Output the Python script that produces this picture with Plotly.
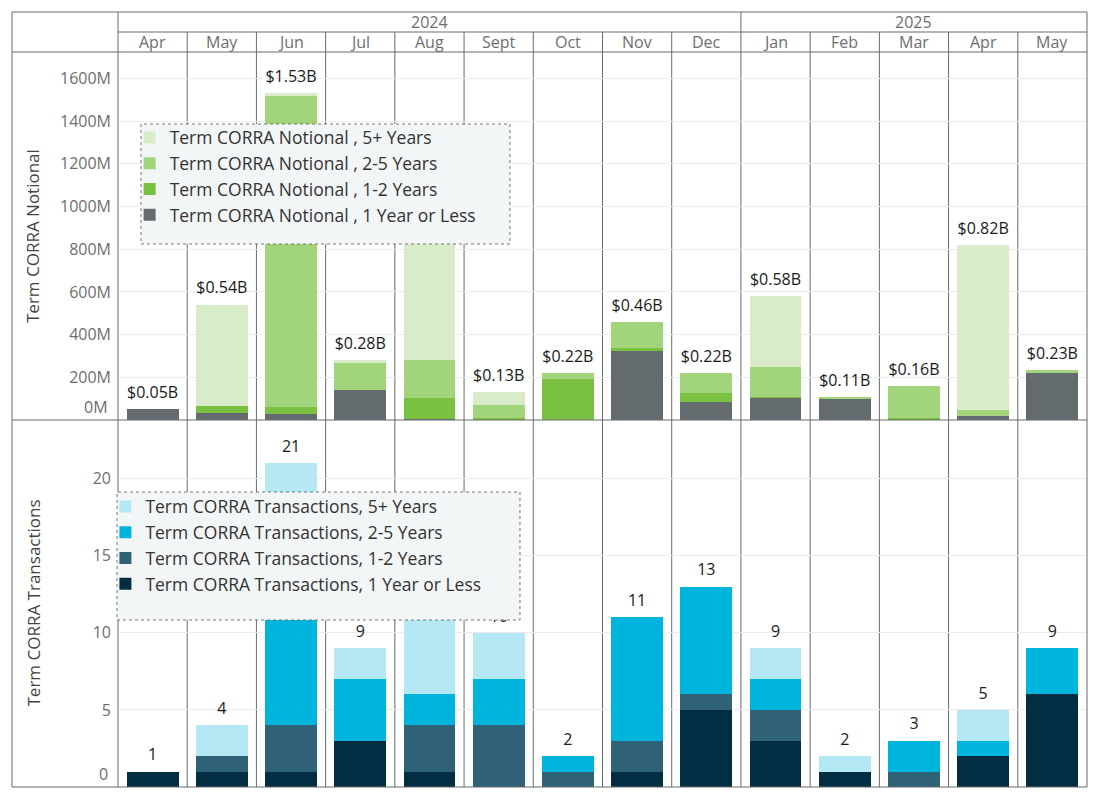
import plotly.graph_objects as go
from plotly.subplots import make_subplots

# months shown along the top header
months = ["Apr", "May", "Jun", "Jul", "Aug", "Sept", "Oct", "Nov", "Dec",
          "Jan", "Feb", "Mar", "Apr", "May"]
years = ["2024"] * 9 + ["2025"] * 5
cats = [m + " " + y for m, y in zip(months, years)]

# Term CORRA notional, $M
notional_1y = [50, 34, 30, 141, 5, 0, 0, 324, 85, 105, 100, 0, 19, 220]
notional_1_2y = [0, 33, 33, 0, 98, 10, 190, 14, 42, 5, 0, 10, 0, 0]
notional_2_5y = [0, 0, 1457, 128, 179, 60, 30, 122, 94, 139, 8, 150, 28, 12]
notional_5y = [0, 473, 10, 13, 598, 60, 0, 0, 0, 333, 0, 0, 773, 0]

# Term CORRA transactions, count
tx_1y = [1, 1, 1, 3, 1, 0, 0, 1, 5, 3, 1, 0, 2, 6]
tx_1_2y = [0, 1, 3, 0, 3, 4, 1, 2, 1, 2, 0, 1, 0, 0]
tx_2_5y = [0, 0, 12, 4, 2, 3, 1, 8, 7, 2, 0, 2, 1, 3]
tx_5y = [0, 2, 5, 2, 6, 3, 0, 0, 0, 2, 1, 0, 2, 0]

notional_ticks = [200, 400, 600, 800, 1000, 1200, 1400, 1600]
tx_ticks = [5, 10, 15, 20]

FONT = "Open Sans"
LINE = "#676b6e"
TICK = "#6e6e6e"

notional_total = [a + b + c + d for a, b, c, d in zip(notional_1y, notional_1_2y, notional_2_5y, notional_5y)]
tx_total = [a + b + c + d for a, b, c, d in zip(tx_1y, tx_1_2y, tx_2_5y, tx_5y)]

fig = make_subplots(rows=2, cols=1, shared_xaxes=True, vertical_spacing=0)

top_series = [
    ("Term CORRA Notional , 1 Year or Less", notional_1y, "#646b6e"),
    ("Term CORRA Notional , 1-2 Years", notional_1_2y, "#7ac142"),
    ("Term CORRA Notional , 2-5 Years", notional_2_5y, "#a2d47b"),
    ("Term CORRA Notional , 5+ Years", notional_5y, "#d9ecc9"),
]
for name, vals, col in top_series:
    fig.add_trace(go.Bar(x=cats, y=vals, name=name, marker=dict(color=col, line_width=0),
                         legend="legend"), row=1, col=1)

bottom_series = [
    ("Term CORRA Transactions, 1 Year or Less", tx_1y, "#032d42"),
    ("Term CORRA Transactions, 1-2 Years", tx_1_2y, "#2f6276"),
    ("Term CORRA Transactions, 2-5 Years", tx_2_5y, "#00b5dd"),
    ("Term CORRA Transactions, 5+ Years", tx_5y, "#b3e8f4"),
]
for name, vals, col in bottom_series:
    fig.add_trace(go.Bar(x=cats, y=vals, name=name, marker=dict(color=col, line_width=0),
                         legend="legend2"), row=2, col=1)

# total labels (as traces so the legend boxes can cover them)
fig.add_trace(go.Scatter(
    x=cats, y=notional_total, mode="markers+text",
    text=["$%.2fB" % (v / 1000) for v in notional_total],
    textposition="top center", textfont=dict(size=16, color="#1a1a1a", family=FONT),
    marker=dict(size=10, opacity=0), showlegend=False, hoverinfo="skip", cliponaxis=False),
    row=1, col=1)
fig.add_trace(go.Scatter(
    x=cats, y=tx_total, mode="markers+text",
    text=[str(v) for v in tx_total],
    textposition="top center", textfont=dict(size=16, color="#1a1a1a", family=FONT),
    marker=dict(size=10, opacity=0), showlegend=False, hoverinfo="skip", cliponaxis=False),
    row=2, col=1)

H = 735.0
W = 969.0
split = 367 / H

fig.update_layout(
    width=1100, height=800,
    margin=dict(l=110, r=21, t=44, b=21),
    barmode="stack", bargap=0.25,
    plot_bgcolor="white", paper_bgcolor="white",
    font=dict(family=FONT, size=16, color="#333333"),
    legend=dict(x=0.012, y=0.908, xanchor="left", yanchor="top", traceorder="reversed",
                bgcolor="rgba(0,0,0,0)", font=dict(size=17.5, color="#333333"), tracegroupgap=0),
    legend2=dict(x=-0.013, y=0.406, xanchor="left", yanchor="top", traceorder="reversed",
                 bgcolor="rgba(0,0,0,0)", font=dict(size=17.5, color="#333333"), tracegroupgap=0),
)
fig.update_xaxes(range=[-0.5, 13.5], showticklabels=False, showgrid=False, zeroline=False,
                 showline=False, fixedrange=True)
fig.update_yaxes(domain=[split, 1], range=[0, 1724], tickvals=notional_ticks,
                 ticktext=["%dM" % v for v in notional_ticks], row=1, col=1)
fig.update_yaxes(domain=[0, split], range=[0, 23.8], tickvals=tx_ticks, row=2, col=1)
fig.update_yaxes(showgrid=True, gridcolor="#ebebeb", gridwidth=1, zeroline=False, showline=False,
                 tickfont=dict(size=16, color=TICK), ticks="", ticklabelstandoff=6)

# zero labels sit a bit higher than the gridline, as in the source
fig.add_annotation(x=0, xref="paper", y=0, yref="y", text="0M", showarrow=False,
                   xanchor="right", xshift=-8, yshift=13, font=dict(size=16, color=TICK))
fig.add_annotation(x=0, xref="paper", y=0, yref="y2", text="0", showarrow=False,
                   xanchor="right", xshift=-8, yshift=13, font=dict(size=16, color=TICK))

# axis titles
fig.add_annotation(x=-85 / W, xref="paper", y=(split + 1) / 2, yref="paper", text="Term CORRA Notional",
                   textangle=-90, showarrow=False, xanchor="center", yanchor="middle",
                   font=dict(size=17, color="#444444"))
fig.add_annotation(x=-85 / W, xref="paper", y=split / 2, yref="paper", text="Term CORRA Transactions",
                   textangle=-90, showarrow=False, xanchor="center", yanchor="middle",
                   font=dict(size=17, color="#444444"))

# header: months and years
for i, m in enumerate(months):
    fig.add_annotation(x=i, xref="x", y=1 + 10 / H, yref="paper", text=m, showarrow=False,
                       yanchor="middle", font=dict(size=16, color=TICK))
fig.add_annotation(x=4, xref="x", y=1 + 30 / H, yref="paper", text="2024", showarrow=False,
                   yanchor="middle", font=dict(size=16, color=TICK))
fig.add_annotation(x=11, xref="x", y=1 + 30 / H, yref="paper", text="2025", showarrow=False,
                   yanchor="middle", font=dict(size=16, color=TICK))

# table-like frame
left = -106 / W
top = 1 + 40 / H
mid = 1 + 20 / H
ln = dict(color=LINE, width=1)
fig.add_shape(type="rect", xref="paper", yref="paper", x0=left, x1=1, y0=0, y1=top, line=ln)
fig.add_shape(type="line", xref="paper", yref="paper", x0=left, x1=1, y0=1, y1=1, line=ln)
fig.add_shape(type="line", xref="paper", yref="paper", x0=0, x1=1, y0=mid, y1=mid, line=ln)
fig.add_shape(type="line", xref="paper", yref="paper", x0=left, x1=1, y0=split, y1=split, line=ln)
fig.add_shape(type="line", xref="paper", yref="paper", x0=0, x1=0, y0=0, y1=top, line=ln)
for i in range(13):
    fig.add_shape(type="line", xref="x", yref="paper", x0=i + 0.5, x1=i + 0.5, y0=0,
                  y1=top if i == 8 else mid, line=ln, layer="below")

# legend boxes (dotted border)
fig.add_shape(type="rect", xref="paper", yref="paper", x0=23 / W, x1=392 / W,
              y0=543 / H, y1=663 / H, fillcolor="#f3f6f6",
              line=dict(color="#777777", width=1, dash="dot"), layer="above")
fig.add_shape(type="rect", xref="paper", yref="paper", x0=-1 / W, x1=402 / W,
              y0=167 / H, y1=295 / H, fillcolor="#f3f6f6",
              line=dict(color="#777777", width=1, dash="dot"), layer="above")

fig.write_html("out.html")
